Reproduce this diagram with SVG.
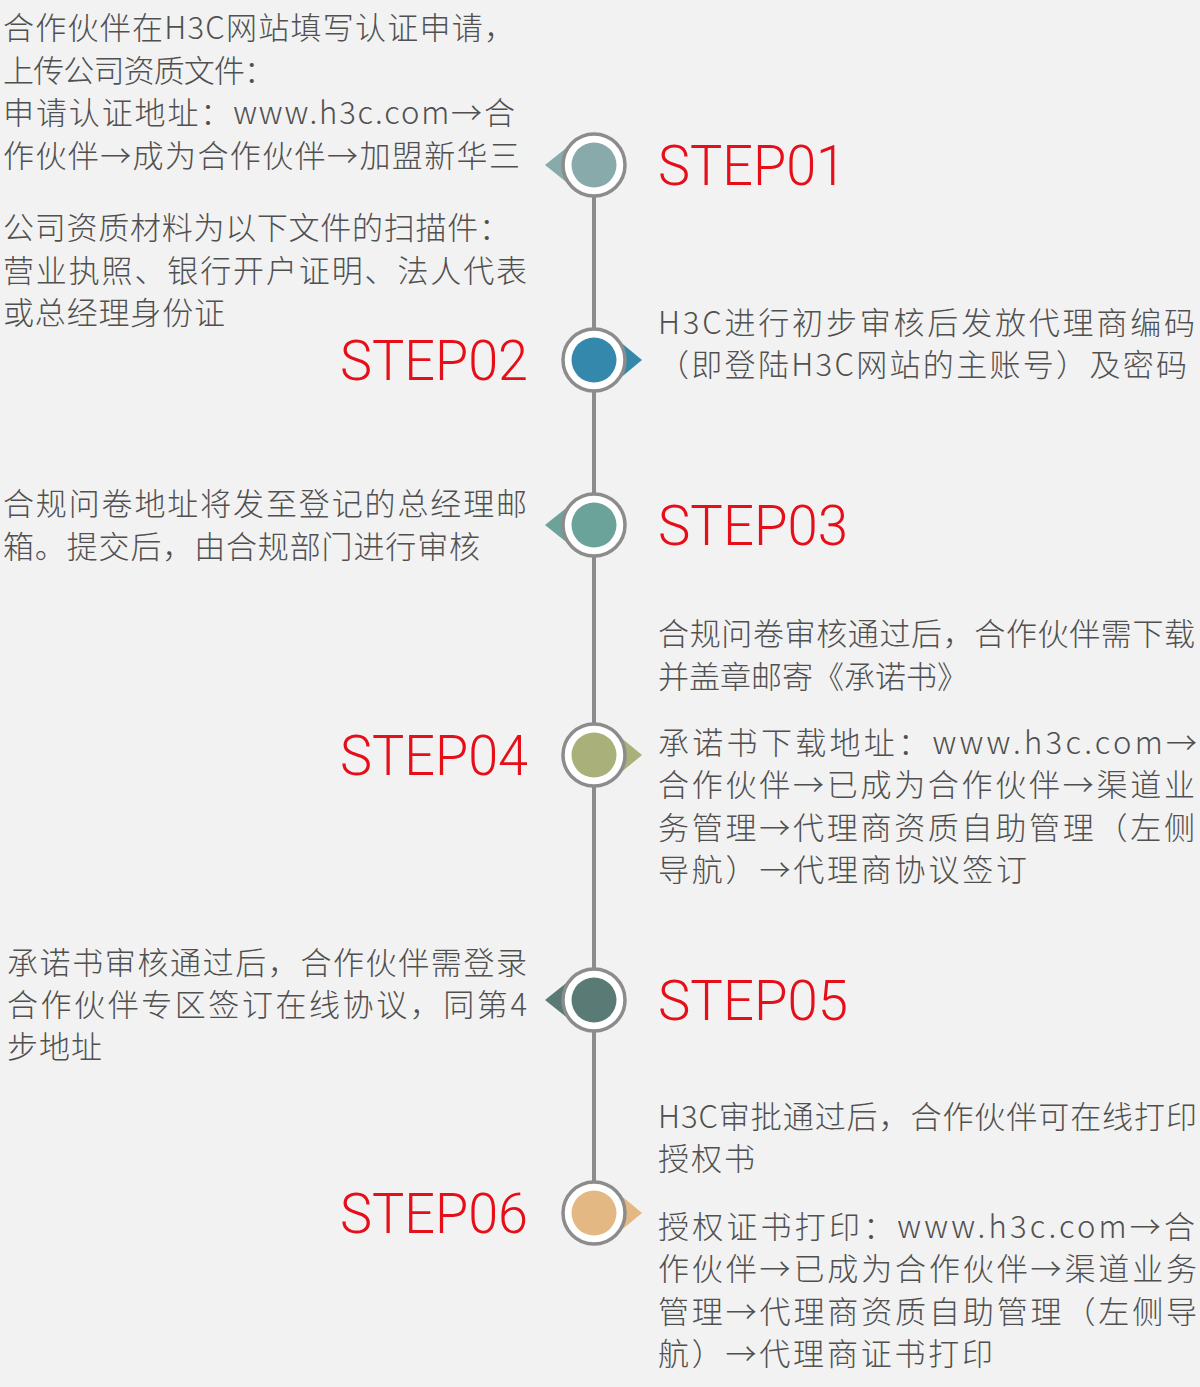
<svg xmlns="http://www.w3.org/2000/svg" width="1200" height="1387" viewBox="0 0 1200 1387">
<style>
.t{font-family:"Noto Sans CJK SC","Liberation Sans",sans-serif;font-size:31px;font-weight:300;fill:#505050}
.s{font-family:Roboto,"Liberation Sans",sans-serif;font-size:56px;font-weight:300;fill:#e60f19}
.ring{fill:#fff;stroke:#8c8c8c;stroke-width:3.5}
</style>
<rect width="1200" height="1387" fill="#f2f2f2"/>
<g id="connectors">
<line x1="594" y1="195" x2="594" y2="1183" stroke="#8c8c8c" stroke-width="4"/>
</g>
<g id="step01">
<polygon points="545,165 575,141 594,165 575,189" fill="#88aaaa"/>
<circle class="ring" cx="594" cy="165" r="31"/>
<circle cx="594" cy="165" r="22.5" fill="#88aaaa"/>
<text class="s" x="658" y="185" textLength="188" lengthAdjust="spacingAndGlyphs">STEP01</text>
<text class="t" x="3" y="39" textLength="512" lengthAdjust="spacing">合作伙伴在H3C网站填写认证申请，</text>
<text class="t" x="3" y="81.5" textLength="272" lengthAdjust="spacing">上传公司资质文件：</text>
<text class="t" x="3" y="124" textLength="512" lengthAdjust="spacing">申请认证地址：www.h3c.com→合</text>
<text class="t" x="3" y="166.5" textLength="517" lengthAdjust="spacing">作伙伴→成为合作伙伴→加盟新华三</text>
<text class="t" x="3" y="239" textLength="507" lengthAdjust="spacing">公司资质材料为以下文件的扫描件：</text>
<text class="t" x="3" y="281.5" textLength="524" lengthAdjust="spacing">营业执照、银行开户证明、法人代表</text>
<text class="t" x="3" y="324" textLength="222" lengthAdjust="spacing">或总经理身份证</text>
</g>
<g id="step02">
<polygon points="642,360 613,336 594,360 613,384" fill="#3488ab"/>
<circle class="ring" cx="594" cy="360" r="31"/>
<circle cx="594" cy="360" r="22.5" fill="#3488ab"/>
<text class="s" x="340" y="380" textLength="188" lengthAdjust="spacingAndGlyphs">STEP02</text>
<text class="t" x="658" y="334" textLength="537" lengthAdjust="spacing">H3C进行初步审核后发放代理商编码</text>
<text class="t" x="658" y="376" textLength="529" lengthAdjust="spacing">（即登陆H3C网站的主账号）及密码</text>
</g>
<g id="step03">
<polygon points="545,525 575,501 594,525 575,549" fill="#6ba39a"/>
<circle class="ring" cx="594" cy="525" r="31"/>
<circle cx="594" cy="525" r="22.5" fill="#6ba39a"/>
<text class="s" x="658" y="545" textLength="190" lengthAdjust="spacingAndGlyphs">STEP03</text>
<text class="t" x="3" y="515" textLength="524" lengthAdjust="spacing">合规问卷地址将发至登记的总经理邮</text>
<text class="t" x="3" y="558" textLength="477" lengthAdjust="spacing">箱。提交后，由合规部门进行审核</text>
</g>
<g id="step04">
<polygon points="642,755 613,731 594,755 613,779" fill="#a9b07a"/>
<circle class="ring" cx="594" cy="755" r="31"/>
<circle cx="594" cy="755" r="22.5" fill="#a9b07a"/>
<text class="s" x="340" y="775" textLength="188" lengthAdjust="spacingAndGlyphs">STEP04</text>
<text class="t" x="658" y="645" textLength="537" lengthAdjust="spacing">合规问卷审核通过后，合作伙伴需下载</text>
<text class="t" x="658" y="688" textLength="310" lengthAdjust="spacing">并盖章邮寄《承诺书》</text>
<text class="t" x="658" y="754" textLength="539" lengthAdjust="spacing">承诺书下载地址：www.h3c.com→</text>
<text class="t" x="658" y="796" textLength="537" lengthAdjust="spacing">合作伙伴→已成为合作伙伴→渠道业</text>
<text class="t" x="658" y="839" textLength="537" lengthAdjust="spacing">务管理→代理商资质自助管理（左侧</text>
<text class="t" x="658" y="881" textLength="369" lengthAdjust="spacing">导航）→代理商协议签订</text>
</g>
<g id="step05">
<polygon points="545,1000 575,976 594,1000 575,1024" fill="#5a7a75"/>
<circle class="ring" cx="594" cy="1000" r="31"/>
<circle cx="594" cy="1000" r="22.5" fill="#5a7a75"/>
<text class="s" x="658" y="1020" textLength="190" lengthAdjust="spacingAndGlyphs">STEP05</text>
<text class="t" x="7" y="974" textLength="520" lengthAdjust="spacing">承诺书审核通过后，合作伙伴需登录</text>
<text class="t" x="7" y="1016" textLength="520" lengthAdjust="spacing">合作伙伴专区签订在线协议，同第4</text>
<text class="t" x="7" y="1058" textLength="95" lengthAdjust="spacing">步地址</text>
</g>
<g id="step06">
<polygon points="642,1213 613,1189 594,1213 613,1237" fill="#e3b883"/>
<circle class="ring" cx="594" cy="1213" r="31"/>
<circle cx="594" cy="1213" r="22.5" fill="#e3b883"/>
<text class="s" x="340" y="1233" textLength="188" lengthAdjust="spacingAndGlyphs">STEP06</text>
<text class="t" x="658" y="1128" textLength="539" lengthAdjust="spacing">H3C审批通过后，合作伙伴可在线打印</text>
<text class="t" x="658" y="1170" textLength="97" lengthAdjust="spacing">授权书</text>
<text class="t" x="658" y="1238" textLength="537" lengthAdjust="spacing">授权证书打印：www.h3c.com→合</text>
<text class="t" x="658" y="1280" textLength="539" lengthAdjust="spacing">作伙伴→已成为合作伙伴→渠道业务</text>
<text class="t" x="658" y="1323" textLength="539" lengthAdjust="spacing">管理→代理商资质自助管理（左侧导</text>
<text class="t" x="658" y="1365" textLength="335" lengthAdjust="spacing">航）→代理商证书打印</text>
</g>
</svg>
